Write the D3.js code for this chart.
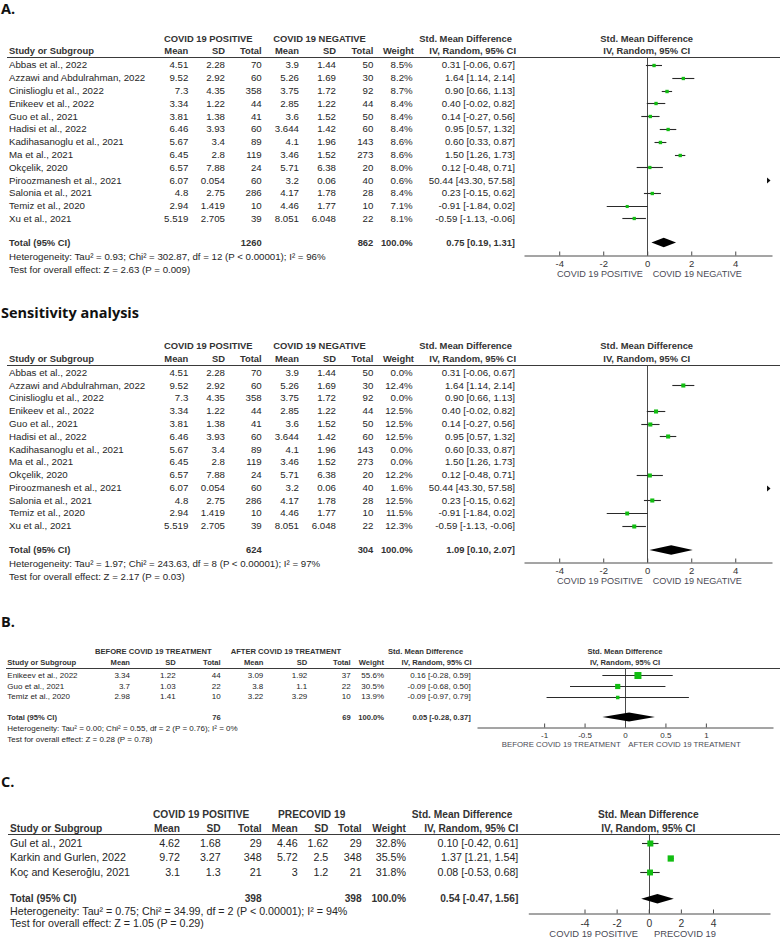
<!DOCTYPE html>
<html><head><meta charset="utf-8">
<script src="https://cdn.jsdelivr.net/npm/d3@7"></script>
<style>html,body{margin:0;padding:0;background:#fff;} svg{display:block}</style>
</head><body>
<svg id="chart" width="780" height="938"></svg>
<script>
// ---------------- Panel A (and sensitivity analysis) data ----------------
const studiesA = ["Abbas et al., 2022","Azzawi and Abdulrahman, 2022","Cinislioglu et al., 2022","Enikeev et al., 2022","Guo et al., 2021","Hadisi et al., 2022","Kadihasanoglu et al., 2021","Ma et al., 2021","Okçelik, 2020","Piroozmanesh et al., 2021","Salonia et al., 2021","Temiz et al., 2020","Xu et al., 2021"];
const posMeanA = [4.51, 9.52, 7.3, 3.34, 3.81, 6.46, 5.67, 6.45, 6.57, 6.07, 4.8, 2.94, 5.519];
const posSdA   = [2.28, 2.92, 4.35, 1.22, 1.38, 3.93, 3.4, 2.8, 7.88, 0.054, 2.75, 1.419, 2.705];
const posNA    = [70, 60, 358, 44, 41, 60, 89, 119, 24, 60, 286, 10, 39];
const negMeanA = [3.9, 5.26, 3.75, 2.85, 3.6, 3.644, 4.1, 3.46, 5.71, 3.2, 4.17, 4.46, 8.051];
const negSdA   = [1.44, 1.69, 1.72, 1.22, 1.52, 1.42, 1.96, 1.52, 6.38, 0.06, 1.78, 1.77, 6.048];
const negNA    = [50, 30, 92, 44, 50, 60, 143, 273, 20, 40, 28, 10, 22];
const weightA  = [8.5, 8.2, 8.7, 8.4, 8.4, 8.4, 8.6, 8.6, 8.0, 0.6, 8.4, 7.1, 8.1];
const weightS  = [0.0, 12.4, 0.0, 12.5, 12.5, 12.5, 0.0, 0.0, 12.2, 1.6, 12.5, 11.5, 12.3];
const smdA     = [0.31, 1.64, 0.90, 0.40, 0.14, 0.95, 0.60, 1.50, 0.12, 50.44, 0.23, -0.91, -0.59];
const loA      = [-0.06, 1.14, 0.66, -0.02, -0.27, 0.57, 0.33, 1.26, -0.48, 43.30, -0.15, -1.84, -1.13];
const hiA      = [0.67, 2.14, 1.13, 0.82, 0.56, 1.32, 0.87, 1.73, 0.71, 57.58, 0.62, 0.02, -0.06];
const totalNA  = [1260, 862];
const totalEstA = [0.75, 0.19, 1.31];
const hetA  = "Heterogeneity: Tau² = 0.93; Chi² = 302.87, df = 12 (P < 0.00001); I² = 96%";
const testA = "Test for overall effect: Z = 2.63 (P = 0.009)";
const totalNS  = [624, 304];
const totalEstS = [1.09, 0.10, 2.07];
const hetS  = "Heterogeneity: Tau² = 1.97; Chi² = 243.63, df = 8 (P < 0.00001); I² = 97%";
const testS = "Test for overall effect: Z = 2.17 (P = 0.03)";
const groupsA = ["COVID 19 POSITIVE", "COVID 19 NEGATIVE"];
const ticksA = [-4, -2, 0, 2, 4];

// ---------------- Panel B data ----------------
const studiesB = ["Enikeev et al., 2022","Guo et al., 2021","Temiz et al., 2020"];
const befMeanB = [3.34, 3.7, 2.98];
const befSdB   = [1.22, 1.03, 1.41];
const befNB    = [44, 22, 10];
const aftMeanB = [3.09, 3.8, 3.22];
const aftSdB   = [1.92, 1.1, 3.29];
const aftNB    = [37, 22, 10];
const weightB  = [55.6, 30.5, 13.9];
const smdB     = [0.16, -0.09, -0.09];
const loB      = [-0.28, -0.68, -0.97];
const hiB      = [0.59, 0.50, 0.79];
const totalNB  = [76, 69];
const totalEstB = [0.05, -0.28, 0.37];
const hetB  = "Heterogeneity: Tau² = 0.00; Chi² = 0.55, df = 2 (P = 0.76); I² = 0%";
const testB = "Test for overall effect: Z = 0.28 (P = 0.78)";
const groupsB = ["BEFORE COVID 19 TREATMENT", "AFTER COVID 19 TREATMENT"];
const ticksB = [-1, -0.5, 0, 0.5, 1];

// ---------------- Panel C data ----------------
const studiesC = ["Gul et al., 2021","Karkin and Gurlen, 2022","Koç and Keseroğlu, 2021"];
const posMeanC = [4.62, 9.72, 3.1];
const posSdC   = [1.68, 3.27, 1.3];
const posNC    = [29, 348, 21];
const preMeanC = [4.46, 5.72, 3];
const preSdC   = [1.62, 2.5, 1.2];
const preNC    = [29, 348, 21];
const weightC  = [32.8, 35.5, 31.8];
const smdC     = [0.10, 1.37, 0.08];
const loC      = [-0.42, 1.21, -0.53];
const hiC      = [0.61, 1.54, 0.68];
const totalNC  = [398, 398];
const totalEstC = [0.54, -0.47, 1.56];
const hetC  = "Heterogeneity: Tau² = 0.75; Chi² = 34.99, df = 2 (P < 0.00001); I² = 94%";
const testC = "Test for overall effect: Z = 1.05 (P = 0.29)";
const groupsC = ["COVID 19 POSITIVE", "PRECOVID 19"];
const ticksC = [-4, -2, 0, 2, 4];

// ---------------- styles / layout ----------------
const FONT = "'Liberation Sans', Arial, sans-serif";
const TITLE_FONT = "'Open Sans', sans-serif";
const BODY = "#262626", BOLD = "#333", AXIS = "#4a4a4a", GREEN = "#12bd12";

const svg = d3.select("#chart");

const LA = {base: 38.3, colDy: 12.7, lineDy: 19, row0Dy: 26.8, step: 12.78, totalDy: 204.3, hetDy: 218.3, testDy: 231,
  axisDy: 216.4, axLabDy: 235.5, sx: 9, gx: [164, 273.3, 419.3], cols: [188.3, 225, 261.7, 299, 336, 373.3],
  wHx: 414, wx: 412.7, smdHx: 516, smdx: 515, plotMid: 646.7, ruleX0: 7,
  xDomain: [-5.6, 5.67], xRange: [524, 772], tickPad: 4.3, tickFs: 9.5, axLabFs: 9.1, axLabGap: [4.3, 5.4],
  sqMax: 11.5, fs: 9.7, fsb: 9.4, diamondH: 9.5};
const LS = Object.assign({}, LA, {base: 345.7});
const LB = {base: 651.7, colDy: 10.6, lineDy: 16.6, row0Dy: 23.3, step: 10.8, totalDy: 65.3, hetDy: 76.6, testDy: 87.6,
  axisDy: 75.3, axLabDy: 92.3, sx: 7.3, gx: [95, 230.7, 388], cols: [130, 175.7, 220.7, 263.3, 307.3, 350.7],
  wHx: 384, wx: 384, smdHx: 471.7, smdx: 470.7, plotMid: 625, ruleX0: 6,
  xDomain: [-1.83, 1.83], xRange: [477, 773], tickPad: 5, tickFs: 8, axLabFs: 7.8, axLabGap: [4.3, 3.3],
  sqMax: 9.4, fs: 8, fsb: 7.6, diamondH: 9};
const LC = {base: 814.3, colDy: 14, lineDy: 20, row0Dy: 28.9, step: 14.35, totalDy: 84.5, hetDy: 96.7, testDy: 109,
  axisDy: 98.4, axLabDy: 119.2, sx: 10, gx: [153, 278, 411.7], cols: [180, 220.7, 261.7, 297.7, 328.3, 361.7],
  wHx: 406, wx: 406, smdHx: 518.3, smdx: 518.3, plotMid: 648.3, ruleX0: 8,
  xDomain: [-7.5, 7.55], xRange: [528.3, 770], tickPad: 6.2, tickFs: 10.3, axLabFs: 9.4, axLabGap: [10.8, 5.2],
  sqMax: 10.5, fs: 10.7, fsb: 10.2, diamondH: 9.5};

const f2 = v => v.toFixed(2);
const ciText = (e, l, h) => `${f2(e)} [${f2(l)}, ${f2(h)}]`;
const crisp = v => Math.round(v) + 0.5;

function drawPanel(L, D) {
  const g = svg.append("g").attr("font-family", FONT);
  const Y = k => L.base + k;
  const text = (x, y, s, o = {}) => g.append("text")
    .attr("x", x).attr("y", y).attr("dy", "0.35em")
    .attr("font-size", o.bold ? L.fsb : L.fs)
    .attr("font-weight", o.bold ? "bold" : null)
    .attr("text-anchor", o.anchor || "start")
    .attr("fill", o.fill || (o.bold ? BOLD : BODY))
    .text(s);

  // group headers
  text(L.gx[0], Y(0), D.groups[0], {bold: true});
  text(L.gx[1], Y(0), D.groups[1], {bold: true});
  text(L.gx[2], Y(0), "Std. Mean Difference", {bold: true});
  text(L.plotMid, Y(0), "Std. Mean Difference", {bold: true, anchor: "middle"});
  // column headers
  const cy = Y(L.colDy);
  text(L.sx, cy, "Study or Subgroup", {bold: true});
  ["Mean", "SD", "Total", "Mean", "SD", "Total"].forEach((h, i) => text(L.cols[i], cy, h, {bold: true, anchor: "end"}));
  text(L.wHx, cy, "Weight", {bold: true, anchor: "end"});
  text(L.smdHx, cy, "IV, Random, 95% CI", {bold: true, anchor: "end"});
  text(L.plotMid, cy, "IV, Random, 95% CI", {bold: true, anchor: "middle"});
  // header rule
  const ruleY = crisp(Y(L.lineDy));
  g.append("line").attr("x1", L.ruleX0).attr("x2", 780).attr("y1", ruleY).attr("y2", ruleY)
    .attr("stroke", "#3a3a3a").attr("stroke-width", 1);

  const yRow = d3.scaleLinear().domain([0, 1]).range([Y(L.row0Dy), Y(L.row0Dy) + L.step]);
  const x = d3.scaleLinear().domain(L.xDomain).range(L.xRange);
  const size = d3.scaleSqrt().domain([0, 100]).range([0, L.sqMax]);
  const [dmin, dmax] = L.xDomain;

  // table rows
  D.studies.forEach((s, i) => {
    const ry = yRow(i);
    text(L.sx, ry, s);
    [D.m1[i], D.s1[i], D.n1[i], D.m2[i], D.s2[i], D.n2[i]]
      .forEach((v, j) => text(L.cols[j], ry, String(v), {anchor: "end"}));
    text(L.wx, ry, D.w[i].toFixed(1) + "%", {anchor: "end"});
    text(L.smdx, ry, ciText(D.e[i], D.lo[i], D.hi[i]), {anchor: "end"});
  });
  // total + footnotes
  const ty = Y(L.totalDy);
  text(L.sx, ty, "Total (95% CI)", {bold: true});
  text(L.cols[2], ty, String(D.totalN[0]), {bold: true, anchor: "end"});
  text(L.cols[5], ty, String(D.totalN[1]), {bold: true, anchor: "end"});
  text(L.wx, ty, "100.0%", {bold: true, anchor: "end"});
  text(L.smdx, ty, ciText(D.total[0], D.total[1], D.total[2]), {bold: true, anchor: "end"});
  text(L.sx, Y(L.hetDy), D.het);
  text(L.sx, Y(L.testDy), D.test);

  // plot
  const axisY = crisp(Y(L.axisDy));
  const zx = crisp(x(0));
  g.append("line").attr("x1", zx).attr("x2", zx).attr("y1", ruleY).attr("y2", axisY)
    .attr("stroke", AXIS).attr("stroke-width", 1);

  D.studies.forEach((s, i) => {
    if (D.w[i] <= 0) return;
    const ry = crisp(yRow(i));
    const lo = D.lo[i], hi = D.hi[i], e = D.e[i];
    if (hi > dmin && lo < dmax) {
      g.append("line").attr("x1", x(Math.max(lo, dmin))).attr("x2", x(Math.min(hi, dmax)))
        .attr("y1", ry).attr("y2", ry).attr("stroke", "#2a2a2a").attr("stroke-width", 1.1);
    }
    if (hi > dmax) {
      const tip = x(dmax) - 1.5;
      g.append("path").attr("d", `M${tip},${ry}L${tip - 3.5},${ry - 3}L${tip - 3.5},${ry + 3}Z`).attr("fill", "#111");
    }
    if (lo < dmin) {
      const tip = x(dmin) + 1.5;
      g.append("path").attr("d", `M${tip},${ry}L${tip + 3.5},${ry - 3}L${tip + 3.5},${ry + 3}Z`).attr("fill", "#111");
    }
    if (e >= dmin && e <= dmax) {
      const s2 = size(D.w[i]);
      g.append("rect").attr("x", x(e) - s2 / 2).attr("y", ry - s2 / 2).attr("width", s2).attr("height", s2)
        .attr("fill", GREEN);
    }
  });
  // diamond
  const dy = Y(L.totalDy), h = L.diamondH / 2;
  g.append("path")
    .attr("d", `M${x(D.total[1])},${dy}L${x(D.total[0])},${dy - h}L${x(D.total[2])},${dy}L${x(D.total[0])},${dy + h}Z`)
    .attr("fill", "#000");

  // axis
  const axis = d3.axisBottom(x).tickValues(D.ticks).tickFormat(d => String(d))
    .tickSizeInner(-4).tickSizeOuter(0).tickPadding(L.tickPad);
  const ag = g.append("g").attr("transform", `translate(0,${axisY})`).call(axis);
  ag.attr("font-family", FONT).attr("font-size", L.tickFs).attr("color", AXIS);
  ag.selectAll(".tick text").attr("fill", "#333");

  g.append("text").attr("x", x(0) - L.axLabGap[0]).attr("y", Y(L.axLabDy)).attr("dy", "0.35em")
    .attr("text-anchor", "end").attr("font-size", L.axLabFs).attr("fill", "#4a4a55").text(D.groups[0]);
  g.append("text").attr("x", x(0) + L.axLabGap[1]).attr("y", Y(L.axLabDy)).attr("dy", "0.35em")
    .attr("text-anchor", "start").attr("font-size", L.axLabFs).attr("fill", "#4a4a55").text(D.groups[1]);
}

// titles
const titles = [["A.", 9, 14.5], ["Sensitivity analysis", 313, 14.5], ["B.", 621.7, 14.5], ["C.", 781.7, 14.5]];
titles.forEach(([t, y, fs]) => svg.append("text").attr("x", 1).attr("y", y).attr("dy", "0.36em")
  .attr("font-family", TITLE_FONT).attr("font-weight", "bold").attr("font-size", fs).attr("fill", "#111").text(t));

drawPanel(LA, {studies: studiesA, m1: posMeanA, s1: posSdA, n1: posNA, m2: negMeanA, s2: negSdA, n2: negNA,
  w: weightA, e: smdA, lo: loA, hi: hiA, totalN: totalNA, total: totalEstA, het: hetA, test: testA, groups: groupsA, ticks: ticksA});
drawPanel(LS, {studies: studiesA, m1: posMeanA, s1: posSdA, n1: posNA, m2: negMeanA, s2: negSdA, n2: negNA,
  w: weightS, e: smdA, lo: loA, hi: hiA, totalN: totalNS, total: totalEstS, het: hetS, test: testS, groups: groupsA, ticks: ticksA});
drawPanel(LB, {studies: studiesB, m1: befMeanB, s1: befSdB, n1: befNB, m2: aftMeanB, s2: aftSdB, n2: aftNB,
  w: weightB, e: smdB, lo: loB, hi: hiB, totalN: totalNB, total: totalEstB, het: hetB, test: testB, groups: groupsB, ticks: ticksB});
drawPanel(LC, {studies: studiesC, m1: posMeanC, s1: posSdC, n1: posNC, m2: preMeanC, s2: preSdC, n2: preNC,
  w: weightC, e: smdC, lo: loC, hi: hiC, totalN: totalNC, total: totalEstC, het: hetC, test: testC, groups: groupsC, ticks: ticksC});
</script>
</body></html>
